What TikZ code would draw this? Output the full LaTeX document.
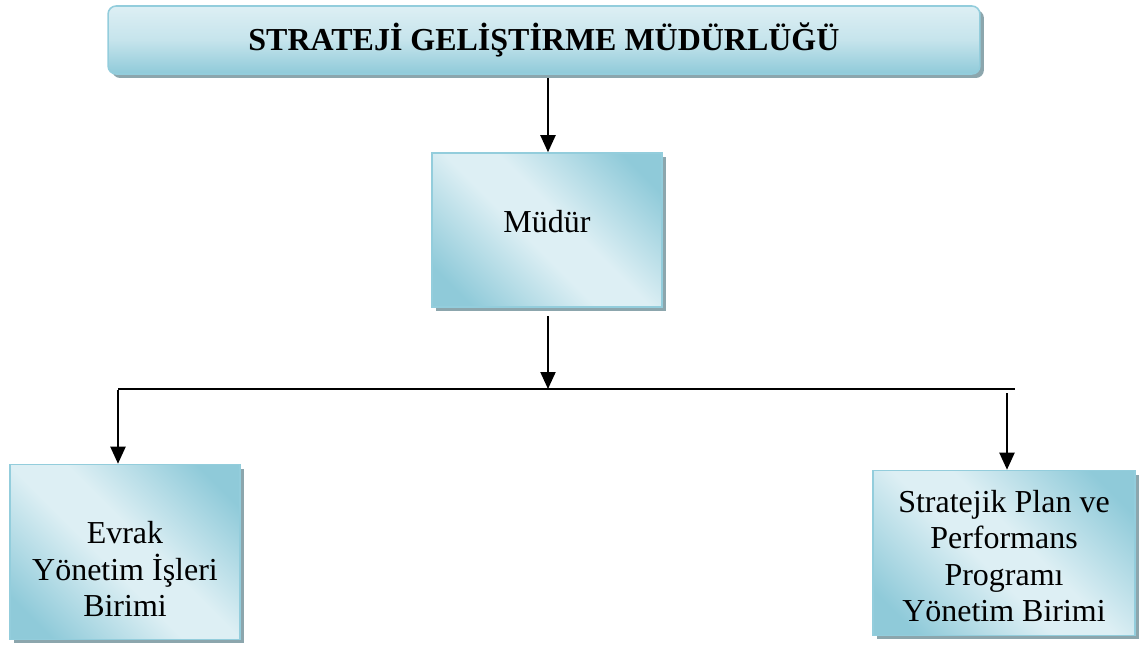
\documentclass[tikz,border=0pt]{standalone}
\usepackage{fontspec}
\setmainfont{Liberation Serif}
\usetikzlibrary{arrows.meta,shadows}
\definecolor{dk}{HTML}{8FCAD9}
\definecolor{lt}{HTML}{DDEFF4}
\definecolor{bd}{HTML}{93CDDC}
\definecolor{shd}{HTML}{8CA6AD}
\pgfdeclarehorizontalshading{diagblue}{100bp}{color(0bp)=(dk); color(22bp)=(dk); color(45bp)=(lt); color(55bp)=(lt); color(78bp)=(dk); color(100bp)=(dk)}
\tikzset{
  px/.style={x=0.02cm,y=-0.02cm},
  unitbox/.style={draw=bd, line width=0.9pt, shading=diagblue, shading angle=45,
    drop shadow={shadow xshift=0.08cm, shadow yshift=-0.08cm, fill=shd, opacity=1},
    inner sep=0pt},
  unittext/.style={align=center, font=\fontsize{18.2}{20.8}\selectfont, inner sep=0pt},
  titlebox/.style={draw=bd, line width=0.9pt, rounded corners=0.16cm,
    top color=lt, bottom color=dk, middle color=lt!70!dk,
    drop shadow={shadow xshift=0.08cm, shadow yshift=-0.08cm, fill=shd, opacity=1},
    font=\fontsize{18.2}{20}\selectfont\bfseries},
  conn/.style={line width=1.15pt, black},
  arr/.style={conn, -{Triangle[width=0.3cm,length=0.34cm]}}
}
\begin{document}
\begin{tikzpicture}[px]
\useasboundingbox (0,0) rectangle (1140,646);
\node[titlebox, minimum width=17.44cm, minimum height=1.36cm] (title) at (544,40) {STRATEJİ GELİŞTİRME MÜDÜRLÜĞÜ};
\node[unitbox, minimum width=4.6cm, minimum height=3.08cm,
  label={[unittext, yshift=0.16cm]center:Müdür}] (mudur) at (547,230) {};
\node[unitbox, minimum width=4.6cm, minimum height=3.5cm,
  label={[unittext, yshift=-0.34cm]center:Evrak\\Yönetim İşleri\\Birimi}] (evrak) at (125,552) {};
\node[unitbox, minimum width=5.24cm, minimum height=3.3cm,
  label={[unittext, yshift=-0.06cm]center:Stratejik Plan ve\\Performans\\Programı\\Yönetim Birimi}] (plan) at (1004,553) {};
\coordinate (tstart) at (548,78);
\coordinate (mstart) at (548,316);
\coordinate (bus) at (548,389);
\coordinate (busL) at (118,389);
\coordinate (busR) at (1015,389);
\coordinate (rtop) at (1007,393);
\draw[arr] (tstart) -- (tstart |- mudur.north);
\draw[arr] (mstart) -- (bus);
\draw[conn] (busL) -- (busR);
\draw[arr] ([yshift=-0.57pt]busL) -- (busL |- evrak.north);
\draw[arr] (rtop) -- (rtop |- plan.north);
\end{tikzpicture}
\end{document}
